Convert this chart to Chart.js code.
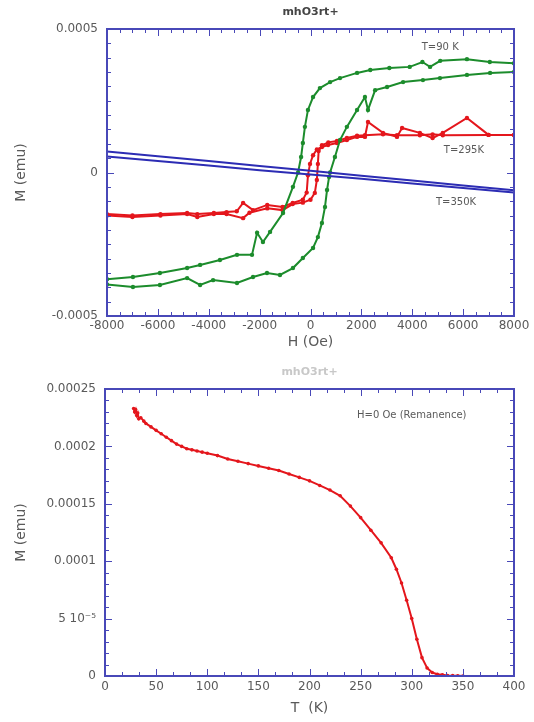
<!DOCTYPE html>
<html>
<head>
<meta charset="utf-8">
<script src="https://cdn.jsdelivr.net/npm/chart.js@4/dist/chart.umd.min.js"></script>
<style>
    html, body { margin: 0; padding: 0; background: #fff; }
    .pane { position: absolute; left: 0; width: 534px; }
    #loop-pane { top: 0; height: 360px; }
    #rem-pane { top: 360px; height: 362px; }
</style>
</head>
<body>
<div class="pane" id="loop-pane"><canvas id="loop-chart"></canvas></div>
<div class="pane" id="rem-pane"><canvas id="rem-chart"></canvas></div>
<script>
// T = 90 K, field sweeping down from +8000 Oe
const green90DownH = [8000, 7050, 6150, 5100, 4700, 4400, 3900, 3100, 2350, 1830, 1160, 770, 370, 100, -100, -220, -300, -370, -490, -690, -1080, -1590, -1870, -2100, -2300, -2890, -3560, -4340, -4850, -5920, -6980, -8000];
const green90DownM = [3.81e-4, 3.85e-4, 3.95e-4, 3.89e-4, 3.68e-4, 3.85e-4, 3.68e-4, 3.64e-4, 3.57e-4, 3.47e-4, 3.29e-4, 3.15e-4, 2.94e-4, 2.63e-4, 2.18e-4, 1.59e-4, 1.03e-4, 0.54e-4, 0.0, -0.5e-4, -1.41e-4, -2.07e-4, -2.42e-4, -2.1e-4, -2.87e-4, -2.87e-4, -3.05e-4, -3.22e-4, -3.33e-4, -3.5e-4, -3.64e-4, -3.72e-4];
// T = 90 K, field sweeping up from -8000 Oe
const green90UpH = [-8000, -6980, -5920, -4850, -4340, -3830, -2890, -2260, -1710, -1200, -690, -300, 100, 290, 450, 570, 650, 730, 770, 960, 1160, 1430, 1830, 2140, 2260, 2540, 3010, 3640, 4420, 5090, 6150, 7060, 8000];
const green90UpM = [-3.9e-4, -3.99e-4, -3.92e-4, -3.68e-4, -3.92e-4, -3.75e-4, -3.85e-4, -3.64e-4, -3.5e-4, -3.57e-4, -3.33e-4, -2.98e-4, -2.63e-4, -2.25e-4, -1.76e-4, -1.2e-4, -0.61e-4, -0.16e-4, 0.0, 0.54e-4, 1.13e-4, 1.59e-4, 2.18e-4, 2.63e-4, 2.18e-4, 2.87e-4, 2.98e-4, 3.15e-4, 3.22e-4, 3.29e-4, 3.4e-4, 3.47e-4, 3.5e-4];

// T = 295 K
const red295DownH = [8000, 7000, 6150, 5200, 4800, 4300, 3600, 3400, 2850, 2260, 2140, 1830, 1430, 1040, 690, 450, 250, 100, -20, -100, -150, -300, -700, -1100, -1700, -2260, -2650, -2900, -3300, -3800, -4450, -4850, -5900, -7000, -8000];
const red295DownM = [1.31e-4, 1.31e-4, 1.9e-4, 1.38e-4, 1.2e-4, 1.38e-4, 1.55e-4, 1.24e-4, 1.38e-4, 1.76e-4, 1.24e-4, 1.24e-4, 1.13e-4, 1.03e-4, 0.96e-4, 0.89e-4, 0.8e-4, 0.6e-4, 0.3e-4, -0.1e-4, -0.7e-4, -0.95e-4, -1.06e-4, -1.2e-4, -1.13e-4, -1.31e-4, -1.06e-4, -1.35e-4, -1.38e-4, -1.41e-4, -1.45e-4, -1.41e-4, -1.45e-4, -1.5e-4, -1.45e-4];
const red295UpH = [-8000, -7000, -5900, -4850, -4450, -3800, -3300, -2650, -2400, -1700, -1100, -700, -300, 0, 170, 250, 290, 320, 450, 700, 1040, 1430, 1830, 2140, 2850, 3400, 4300, 4800, 5200, 7000, 8000];
const red295UpM = [-1.5e-4, -1.55e-4, -1.5e-4, -1.45e-4, -1.55e-4, -1.45e-4, -1.45e-4, -1.59e-4, -1.4e-4, -1.25e-4, -1.31e-4, -1.1e-4, -1.05e-4, -0.95e-4, -0.71e-4, -0.26e-4, 0.3e-4, 0.75e-4, 0.95e-4, 1.05e-4, 1.1e-4, 1.2e-4, 1.28e-4, 1.3e-4, 1.33e-4, 1.3e-4, 1.3e-4, 1.33e-4, 1.3e-4, 1.31e-4, 1.31e-4];

// T = 350 K
const blue350DownH = [8000, 6000, 4000, 2000, 0, -2000, -4000, -6000, -8000];
const blue350DownM = [-0.62e-4, -0.45e-4, -0.28e-4, -0.11e-4, 0.06e-4, 0.23e-4, 0.4e-4, 0.57e-4, 0.73e-4];
const blue350UpH = [-8000, -6000, -4000, -2000, 0, 2000, 4000, 6000, 8000];
const blue350UpM = [0.56e-4, 0.4e-4, 0.24e-4, 0.08e-4, -0.07e-4, -0.22e-4, -0.38e-4, -0.54e-4, -0.7e-4];

// remanence, H = 0 Oe
const remT = [28, 29, 30, 31, 32, 33, 35, 38, 40, 45, 50, 55, 60, 65, 70, 75, 80, 85, 90, 95, 100, 110, 120, 130, 140, 150, 160, 170, 180, 190, 200, 210, 220, 230, 240, 250, 260, 270, 280, 285, 290, 295, 300, 305, 310, 315, 320, 325, 330, 335, 340, 345, 350];
const remM = [2.33e-4, 2.3e-4, 2.32e-4, 2.27e-4, 2.29e-4, 2.24e-4, 2.25e-4, 2.22e-4, 2.2e-4, 2.17e-4, 2.14e-4, 2.11e-4, 2.08e-4, 2.05e-4, 2.02e-4, 2.0e-4, 1.98e-4, 1.97e-4, 1.96e-4, 1.95e-4, 1.94e-4, 1.92e-4, 1.89e-4, 1.87e-4, 1.85e-4, 1.83e-4, 1.81e-4, 1.79e-4, 1.76e-4, 1.73e-4, 1.7e-4, 1.66e-4, 1.62e-4, 1.57e-4, 1.48e-4, 1.38e-4, 1.27e-4, 1.16e-4, 1.03e-4, 0.93e-4, 0.81e-4, 0.66e-4, 0.5e-4, 0.32e-4, 0.16e-4, 0.07e-4, 0.03e-4, 0.015e-4, 0.01e-4, 0.005e-4, 0.003e-4, 0.002e-4, 0.0];

const hTicks = [-8000, -6000, -4000, -2000, 0, 2000, 4000, 6000, 8000];
const tTicks = [0, 50, 100, 150, 200, 250, 300, 350, 400];

const FRAME = '#4848b8';
const TEXT = '#5a5a5a';
const GREEN = '#1c8c2c';
const RED = '#e4161c';
const BLUE = '#2c2cb4';

const zip = (xs, ys) => xs.map((x, i) => ({ x, y: ys[i] }));

const fmtTick = (value) => {
    const v = +Number(value).toPrecision(6);
    if (Math.abs(v - 5e-5) < 1e-12) {
        return '5 10\u207B\u2075';
    }
    return String(v);
};

// boxed frame with inward ticks on all four sides, plus free text labels
const framePlugin = {
    id: 'frame',
    afterDatasetsDraw(chart, args, opts) {
        const { ctx, chartArea: a, scales: { x, y } } = chart;
        ctx.save();
        ctx.strokeStyle = FRAME;
        ctx.lineWidth = 1;
        ctx.beginPath();
        const xn = Math.round((x.max - x.min) / opts.xMinor);
        for (let i = 0; i <= xn; i++) {
            const p = Math.round(x.getPixelForValue(x.min + i * opts.xMinor)) + 0.5;
            const len = i % opts.xEvery === 0 ? 7 : 4;
            ctx.moveTo(p, a.bottom); ctx.lineTo(p, a.bottom - len);
            ctx.moveTo(p, a.top); ctx.lineTo(p, a.top + len);
        }
        const yn = Math.round((y.max - y.min) / opts.yMinor);
        for (let i = 0; i <= yn; i++) {
            const p = Math.round(y.getPixelForValue(y.min + i * opts.yMinor)) + 0.5;
            const len = i % opts.yEvery === 0 ? 7 : 4;
            ctx.moveTo(a.left, p); ctx.lineTo(a.left + len, p);
            ctx.moveTo(a.right, p); ctx.lineTo(a.right - len, p);
        }
        ctx.stroke();
        ctx.lineWidth = 2;
        ctx.strokeRect(a.left, a.top, a.right - a.left, a.bottom - a.top);

        ctx.textAlign = 'center';
        ctx.textBaseline = 'middle';
        (opts.notes || []).forEach((n) => {
            ctx.fillStyle = TEXT;
            ctx.font = '10px "DejaVu Sans", sans-serif';
            ctx.fillText(n.text, x.getPixelForValue(n.x), y.getPixelForValue(n.y));
        });
        if (opts.title) {
            ctx.fillStyle = opts.titleColor || '#444';
            ctx.font = 'bold 11px "DejaVu Sans", sans-serif';
            ctx.fillText(opts.title, (a.left + a.right) / 2, 12);
        }
        ctx.restore();
    },
};

const axisFont = { family: '"DejaVu Sans", sans-serif', size: 12 };
const titleFont = { family: '"DejaVu Sans", sans-serif', size: 14 };

const lineSet = (label, points, color, radius) => ({
    label,
    data: points,
    showLine: true,
    borderColor: color,
    backgroundColor: color,
    borderWidth: 2,
    pointRadius: radius,
    pointBorderWidth: 0,
    tension: 0,
});

const baseOptions = (cfg) => ({
    responsive: true,
    maintainAspectRatio: false,
    animation: false,
    devicePixelRatio: 1,
    layout: { padding: { top: 29, right: 20, left: 0, bottom: 0 } },
    plugins: {
        legend: { display: false },
        tooltip: { enabled: false },
        frame: cfg.frame,
    },
    scales: {
        x: {
            type: 'linear',
            min: cfg.xMin,
            max: cfg.xMax,
            afterBuildTicks: (scale) => { scale.ticks = cfg.xTicks.map((v) => ({ value: v })); },
            afterFit: (scale) => { scale.height = cfg.xHeight; },
            grid: { display: false, drawTicks: false },
            border: { display: false },
            ticks: { color: TEXT, font: axisFont, padding: cfg.xPad, maxRotation: 0, autoSkip: false, callback: (v) => String(v) },
            title: { display: true, text: cfg.xTitle, color: TEXT, font: titleFont, padding: { top: 0, bottom: cfg.xTitlePad } },
        },
        y: {
            type: 'linear',
            min: cfg.yMin,
            max: cfg.yMax,
            afterFit: (scale) => { scale.width = cfg.yWidth; },
            grid: { display: false, drawTicks: false },
            border: { display: false },
            ticks: { color: TEXT, font: axisFont, padding: 9, stepSize: cfg.yStep, callback: fmtTick },
            title: { display: true, text: 'M (emu)', color: TEXT, font: titleFont, padding: { top: 13, bottom: 0 } },
        },
    },
});

const init = () => {
    new Chart(document.getElementById('loop-chart'), {
        type: 'scatter',
        data: {
            datasets: [
                lineSet('T=350K down', zip(blue350DownH, blue350DownM), BLUE, 0),
                lineSet('T=350K up', zip(blue350UpH, blue350UpM), BLUE, 0),
                lineSet('T=90 K down', zip(green90DownH, green90DownM), GREEN, 2.2),
                lineSet('T=90 K up', zip(green90UpH, green90UpM), GREEN, 2.2),
                lineSet('T=295K down', zip(red295DownH, red295DownM), RED, 2.2),
                lineSet('T=295K up', zip(red295UpH, red295UpM), RED, 2.2),
            ],
        },
        options: baseOptions({
            xMin: -8000, xMax: 8000, xTicks: hTicks, xHeight: 44, xPad: 3, xTitle: 'H (Oe)', xTitlePad: 9,
            yMin: -0.0005, yMax: 0.0005, yStep: 0.0005, yWidth: 107,
            frame: {
                xMinor: 500, xEvery: 4, yMinor: 0.00005, yEvery: 10,
                title: 'mhO3rt+',
                notes: [
                    { text: 'T=90 K', x: 5100, y: 4.37e-4 },
                    { text: 'T=295K', x: 6030, y: 0.78e-4 },
                    { text: 'T=350K', x: 5720, y: -1.03e-4 },
                ],
            },
        }),
        plugins: [framePlugin],
    });

    new Chart(document.getElementById('rem-chart'), {
        type: 'scatter',
        data: {
            datasets: [
                lineSet('H=0 Oe', zip(remT, remM), RED, 1.8),
            ],
        },
        options: baseOptions({
            xMin: 0, xMax: 400, xTicks: tTicks, xHeight: 46, xPad: 4, xTitle: 'T  (K)', xTitlePad: 5,
            yMin: 0, yMax: 0.00025, yStep: 0.00005, yWidth: 105,
            frame: {
                xMinor: 50 / 3, xEvery: 3, yMinor: 0.00001, yEvery: 5,
                title: 'mhO3rt+',
                titleColor: '#c8c8c8',
                notes: [
                    { text: 'H=0 Oe (Remanence)', x: 300, y: 2.27e-4 },
                ],
            },
        }),
        plugins: [framePlugin],
    });
};

if (document.readyState === 'loading') {
    document.addEventListener('DOMContentLoaded', init);
} else {
    init();
}
</script>
</body>
</html>
